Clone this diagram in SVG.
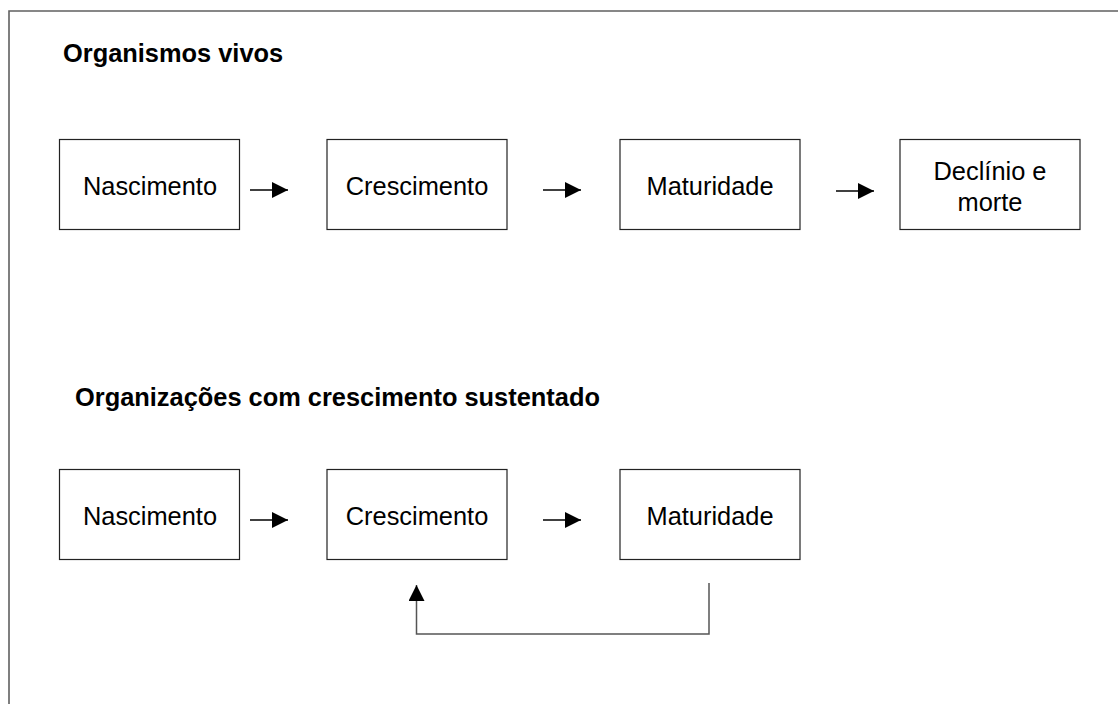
<svg xmlns="http://www.w3.org/2000/svg" width="1118" height="704" viewBox="0 0 1118 704">
  <defs>
    <marker id="ah" viewBox="0 0 16 16" refX="16" refY="8" markerWidth="16" markerHeight="16" markerUnits="userSpaceOnUse" orient="auto">
      <path d="M0,0 L16,8 L0,16 z" fill="#000"/>
    </marker>
    <style>
      .box { fill: #fff; stroke: #222; stroke-width: 1.2; }
      .lbl { font-family: "Liberation Sans", Arial, sans-serif; font-size: 25.4px; fill: #000; text-anchor: middle; }
      .title { font-family: "Liberation Sans", Arial, sans-serif; font-size: 25.4px; font-weight: bold; fill: #000; }
      .arr { stroke: #000; stroke-width: 1.3; fill: none; marker-end: url(#ah); }
      .fb { stroke: #555; stroke-width: 1.5; fill: none; marker-end: url(#ah); }
    </style>
  </defs>
  <rect width="1118" height="704" fill="#fff"/>
  <path d="M9,704 V11 H1118" fill="none" stroke="#606060" stroke-width="1.6"/>

  <text class="title" x="63" y="62">Organismos vivos</text>
  <text class="title" x="75" y="406">Organizações com crescimento sustentado</text>

  <g id="n1">
    <rect class="box" x="59.5" y="139.5" width="180" height="90"/>
    <text class="lbl" x="150" y="195">Nascimento</text>
  </g>
  <g id="n2">
    <rect class="box" x="327" y="139.5" width="180" height="90"/>
    <text class="lbl" x="417" y="195">Crescimento</text>
  </g>
  <g id="n3">
    <rect class="box" x="620" y="139.5" width="180" height="90"/>
    <text class="lbl" x="710" y="195">Maturidade</text>
  </g>
  <g id="n4">
    <rect class="box" x="900" y="139.5" width="180" height="90"/>
    <text class="lbl" x="990" y="180">Declínio e</text>
    <text class="lbl" x="990" y="211">morte</text>
  </g>

  <g id="m1">
    <rect class="box" x="59.5" y="469.5" width="180" height="90"/>
    <text class="lbl" x="150" y="524.5">Nascimento</text>
  </g>
  <g id="m2">
    <rect class="box" x="327" y="469.5" width="180" height="90"/>
    <text class="lbl" x="417" y="524.5">Crescimento</text>
  </g>
  <g id="m3">
    <rect class="box" x="620" y="469.5" width="180" height="90"/>
    <text class="lbl" x="710" y="524.5">Maturidade</text>
  </g>

  <g id="connectors">
    <line class="arr" x1="250" y1="190" x2="288" y2="190"/>
    <line class="arr" x1="543" y1="190" x2="581" y2="190"/>
    <line class="arr" x1="836" y1="191" x2="874" y2="191"/>
    <line class="arr" x1="250" y1="520" x2="288" y2="520"/>
    <line class="arr" x1="543" y1="520" x2="581" y2="520"/>
    <path class="fb" d="M709,583 V634 H416.5 V585"/>
  </g>
</svg>
